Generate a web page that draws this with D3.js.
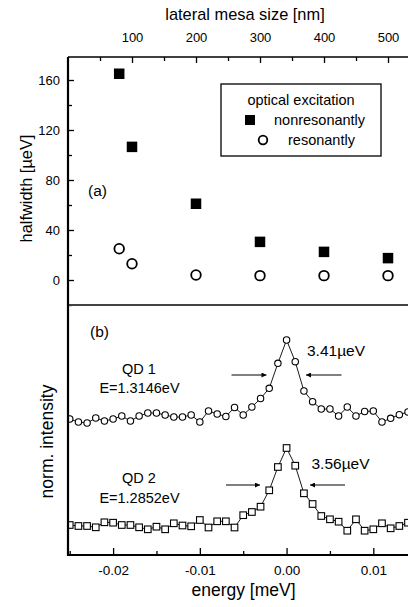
<!DOCTYPE html>
<html>
<head>
<meta charset="utf-8">
<script src="https://cdn.jsdelivr.net/npm/d3@7"></script>
<style>
  html, body { margin: 0; padding: 0; background: #fff; }
  svg { display: block; font-family: "Liberation Sans", Arial, sans-serif; }
</style>
</head>
<body>
<svg id="chart" width="408" height="607"></svg>
<script>
// ---------- data: panel (a) ----------
const mesaSize = [80, 100, 200, 300, 400, 500];               // nm
const nonresonant = [165, 106.5, 61, 30.5, 22.5, 17.5];        // µeV
const resonant = [25, 13, 4, 3.5, 3.5, 3.5];                   // µeV
const topTicks = [100, 200, 300, 400, 500];
const topMinor = [50, 150, 250, 350, 450];
const leftTicks = [0, 40, 80, 120, 160];
const leftMinor = [-20, 20, 60, 100, 140];

// ---------- data: panel (b) ----------
const energy = [-0.025, -0.024, -0.023, -0.022, -0.021, -0.020, -0.019, -0.018, -0.017, -0.016,
  -0.015, -0.014, -0.013, -0.012, -0.011, -0.010, -0.009, -0.008, -0.007, -0.006,
  -0.005, -0.004, -0.003, -0.002, -0.001, 0.000, 0.001, 0.002, 0.003, 0.004,
  0.005, 0.006, 0.007, 0.008, 0.009, 0.010, 0.011, 0.012, 0.013, 0.014];   // meV
const qd1 = [136, 133, 132, 137, 134, 136, 139, 134, 139, 142,
  142, 140, 138, 138, 140, 133, 144, 141, 138.5, 147.5,
  140, 148, 156.5, 166.7, 191.7, 215, 193.3, 164, 153.3, 146,
  146, 139, 148, 139, 143.5, 144, 133, 136.7, 140.3, 143];    // norm. intensity (offset)
const qd2 = [30, 29, 29, 27.7, 32.7, 32.3, 30, 30, 27.7, 25.7,
  28.3, 25.7, 31.7, 29.5, 28.7, 35, 27.5, 33.7, 33.7, 27.5,
  39.8, 43, 48.3, 64.7, 88, 107, 89.3, 61.7, 51, 39,
  35.7, 33.3, 24.3, 35.7, 24.3, 25.7, 31.7, 26.7, 29, 32.3];
const bottomTicks = [-0.02, -0.01, 0.00, 0.01];
const bottomMinor = [-0.025, -0.015, -0.005, 0.005];
const bottomLabels = ["-0.02", "-0.01", "0.00", "0.01"];

const svg = d3.select("#chart");
const L = 68, R = 408, T = 57, MID = 305, B = 555;

// scales
const xTop = d3.scaleLinear().domain([0, 531.25]).range([L, R]);
const yA = d3.scaleLinear().domain([-20, 178.4]).range([MID, T]);
const xB = d3.scaleLinear().domain([-0.0252, 0.0140]).range([L, R]);
const yB = d3.scaleLinear().domain([0, 250]).range([B, MID]);

svg.append("defs").append("clipPath").attr("id", "clipB")
  .append("rect").attr("x", L + 1).attr("y", MID).attr("width", R - L).attr("height", B - MID);

// ---------- axes ----------
function styleAxis(g, fs) {
  g.select(".domain").remove();
  g.selectAll("line").attr("stroke", "#000").attr("stroke-width", 1.3);
  g.selectAll("text").attr("font-size", fs).attr("fill", "#000")
    .attr("font-family", "'Liberation Sans', Arial, sans-serif");
}

// top axis
const gTop = svg.append("g").attr("transform", `translate(0,${T})`)
  .call(d3.axisTop(xTop).tickValues(topTicks).tickSize(-6).tickPadding(15));
styleAxis(gTop, 13);
gTop.selectAll("text").attr("dy", "0em");
svg.append("g").attr("transform", `translate(0,${T})`)
  .call(d3.axisTop(xTop).tickValues(topMinor).tickSize(-4).tickFormat(""))
  .call(g => styleAxis(g, 12));

// left axis (a)
const gLeft = svg.append("g").attr("transform", `translate(${L},0)`)
  .call(d3.axisLeft(yA).tickValues(leftTicks).tickSize(-6).tickPadding(8));
styleAxis(gLeft, 13);
svg.append("g").attr("transform", `translate(${L},0)`)
  .call(d3.axisLeft(yA).tickValues(leftMinor).tickSize(-4).tickFormat(""))
  .call(g => styleAxis(g, 12));

// bottom axis
const gBot = svg.append("g").attr("transform", `translate(0,${B})`)
  .call(d3.axisBottom(xB).tickValues(bottomTicks).tickSize(-7).tickPadding(10)
    .tickFormat((d, i) => bottomLabels[i]));
styleAxis(gBot, 13.5);
svg.append("g").attr("transform", `translate(0,${B})`)
  .call(d3.axisBottom(xB).tickValues(bottomMinor).tickSize(-4).tickFormat(""))
  .call(g => styleAxis(g, 12));

// frame lines
svg.append("line").attr("x1", L).attr("x2", R).attr("y1", T).attr("y2", T)
  .attr("stroke", "#000").attr("stroke-width", 1.6);
svg.append("line").attr("x1", L).attr("x2", R).attr("y1", MID).attr("y2", MID)
  .attr("stroke", "#444").attr("stroke-width", 2);
svg.append("line").attr("x1", L).attr("x2", R).attr("y1", B).attr("y2", B)
  .attr("stroke", "#000").attr("stroke-width", 2);

// ---------- panel (a) points ----------
const sq = 10.5;
svg.append("g").selectAll("rect").data(mesaSize).join("rect")
  .attr("x", (d) => xTop(d) - sq / 2)
  .attr("y", (d, i) => yA(nonresonant[i]) - sq / 2)
  .attr("width", sq).attr("height", sq).attr("fill", "#000");
svg.append("g").selectAll("circle").data(mesaSize).join("circle")
  .attr("cx", (d) => xTop(d))
  .attr("cy", (d, i) => yA(resonant[i]))
  .attr("r", 4.8).attr("fill", "#fff").attr("stroke", "#000").attr("stroke-width", 1.8);

// legend
const lg = svg.append("g");
lg.append("rect").attr("x", 221).attr("y", 84).attr("width", 160).attr("height", 72)
  .attr("fill", "#fff").attr("stroke", "#000").attr("stroke-width", 1.3);
lg.append("text").attr("x", 301).attr("y", 105).attr("text-anchor", "middle")
  .attr("font-size", 14.5).text("optical excitation");
lg.append("rect").attr("x", 245).attr("y", 115).attr("width", 10).attr("height", 10).attr("fill", "#000");
lg.append("text").attr("x", 274).attr("y", 125).attr("font-size", 14.5).text("nonresonantly");
lg.append("circle").attr("cx", 263).attr("cy", 140).attr("r", 4.3)
  .attr("fill", "#fff").attr("stroke", "#000").attr("stroke-width", 1.8);
lg.append("text").attr("x", 288).attr("y", 145).attr("font-size", 14.5).text("resonantly");

// ---------- panel (b) curves ----------
const gB = svg.append("g").attr("clip-path", "url(#clipB)");
const line1 = d3.line().x((d, i) => xB(energy[i])).y((d) => yB(d));
gB.append("path").datum(qd1).attr("d", line1).attr("fill", "none")
  .attr("stroke", "#000").attr("stroke-width", 0.9);
gB.append("path").datum(qd2).attr("d", line1).attr("fill", "none")
  .attr("stroke", "#000").attr("stroke-width", 0.9);
gB.append("g").selectAll("circle").data(qd1).join("circle")
  .attr("cx", (d, i) => xB(energy[i])).attr("cy", (d) => yB(d)).attr("r", 3.2)
  .attr("fill", "#fff").attr("stroke", "#000").attr("stroke-width", 1.1);
const s2 = 6.6;
gB.append("g").selectAll("rect").data(qd2).join("rect")
  .attr("x", (d, i) => xB(energy[i]) - s2 / 2).attr("y", (d) => yB(d) - s2 / 2)
  .attr("width", s2).attr("height", s2)
  .attr("fill", "#fff").attr("stroke", "#000").attr("stroke-width", 1.1);

// left axis line (drawn on top)
svg.append("line").attr("x1", L).attr("x2", L).attr("y1", T).attr("y2", B + 1)
  .attr("stroke", "#000").attr("stroke-width", 2.2);

// arrows
const defs = svg.select("defs");
defs.append("marker").attr("id", "ah").attr("viewBox", "0 0 10 10")
  .attr("refX", 10).attr("refY", 5).attr("markerWidth", 9).attr("markerHeight", 5)
  .attr("markerUnits", "userSpaceOnUse").attr("orient", "auto")
  .append("path").attr("d", "M0,0 L10,5 L0,10 Z").attr("fill", "#000");
function arrow(x1, x2, y) {
  svg.append("line").attr("x1", x1).attr("x2", x2).attr("y1", y).attr("y2", y)
    .attr("stroke", "#000").attr("stroke-width", 1).attr("marker-end", "url(#ah)");
}
arrow(231.5, 266.5, 375);
arrow(341.5, 306, 375);
arrow(226, 260, 485);
arrow(345, 310, 485);

// ---------- texts ----------
function txt(x, y, s, fs, anchor, rot) {
  const t = svg.append("text").attr("x", x).attr("y", y).attr("font-size", fs)
    .attr("text-anchor", anchor || "start").text(s);
  if (rot) t.attr("transform", `rotate(${rot},${x},${y})`);
  return t;
}
txt(245, 19.5, "lateral mesa size [nm]", 16.4, "middle");
txt(32, 188.5, "halfwidth [µeV]", 16.4, "middle", -90);
txt(52.5, 441.5, "norm. intensity", 17.5, "middle", -90);
txt(243.5, 596, "energy [meV]", 17.5, "middle");
txt(88, 196, "(a)", 15.5);
txt(90, 337, "(b)", 15.5);
txt(139, 374, "QD 1", 14.5, "middle");
txt(139.5, 393, "E=1.3146eV", 14.5, "middle");
txt(139, 483, "QD 2", 14.5, "middle");
txt(139.5, 503, "E=1.2852eV", 14.5, "middle");
txt(307, 356, "3.41µeV", 15.5);
txt(311.5, 469, "3.56µeV", 15.5);
</script>
</body>
</html>
